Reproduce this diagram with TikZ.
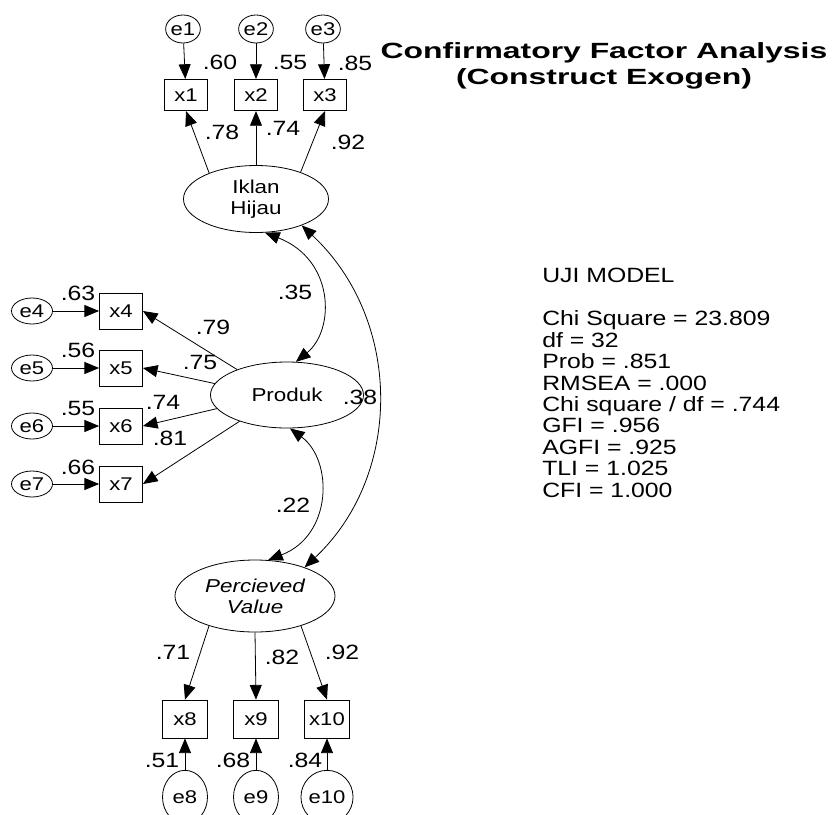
\documentclass[tikz,border=0pt]{standalone}
\usepackage{fontspec}
\setmainfont{Liberation Sans}[FakeStretch=1.2]
\newfontfamily\ttlfam{Liberation Sans}[FakeStretch=1.45]
\usetikzlibrary{shapes.geometric,arrows.meta}
\newcommand\lblF{\fontsize{15.5}{16.1}\selectfont}
\newcommand\latF{\fontsize{14}{15.5}\selectfont}
\newcommand\obsF{\fontsize{13.8}{15}\selectfont}
\newcommand\ttlF{\ttlfam\bfseries\fontsize{16.5}{19.5}\selectfont}
\tikzset{
  lat/.style={draw, ellipse, inner sep=0pt, line width=0.6pt, font=\latF, align=center},
  obs/.style={draw, rectangle, inner sep=0pt, line width=0.6pt, font=\obsF},
  err/.style={draw, ellipse, inner sep=0pt, line width=0.6pt, font=\obsF},
  lbl/.style={inner sep=0pt, font=\lblF},
  pth/.style={-{Triangle[length=11pt,width=9pt]}, line width=0.6pt},
  cov/.style={{Triangle[length=11pt,width=9pt]}-{Triangle[length=11pt,width=9pt]}, line width=0.6pt},
  topbox/.style={obs, minimum width=32.25pt, minimum height=23.5pt},
  leftbox/.style={obs, minimum width=32.25pt, minimum height=27pt},
  botbox/.style={obs, minimum width=33.75pt, minimum height=28.5pt},
  toperr/.style={err, minimum width=24.5pt, minimum height=21pt},
  lefterr/.style={err, minimum width=30.75pt, minimum height=19.5pt},
  boterr/.style={err, minimum width=33.75pt, minimum height=40pt},
}
\begin{document}
\begin{tikzpicture}[x=0.75pt,y=-0.75pt]
\useasboundingbox[fill=white] (0,0) rectangle (835,814);
\begin{scope}
\clip (0,0) rectangle (835,814);

% latent variables
\node[lat, minimum width=108.75pt, minimum height=50.25pt] (iklan) at (256,199) {Iklan\\Hijau};
\node[lat, minimum width=114.75pt, minimum height=49.5pt] (produk) at (287,395) {Produk};
\node[lat, minimum width=120pt, minimum height=54pt, font=\latF\itshape] (pv) at (255,596) {Percieved\\Value};

% top indicators
\node[topbox] (x1) at (186,95) {x1};
\node[topbox] (x2) at (256,95) {x2};
\node[topbox] (x3) at (325,95) {x3};
\node[toperr] (e1) at (183,29) {e1};
\node[toperr] (e2) at (256,29) {e2};
\node[toperr] (e3) at (323,29) {e3};

% left indicators
\node[leftbox] (x4) at (121,311) {x4};
\node[leftbox] (x5) at (121,368) {x5};
\node[leftbox] (x6) at (121,426) {x6};
\node[leftbox] (x7) at (121,484) {x7};
\node[lefterr] (e4) at (32,311) {e4};
\node[lefterr] (e5) at (32,368) {e5};
\node[lefterr] (e6) at (32,426) {e6};
\node[lefterr] (e7) at (32,484) {e7};

% bottom indicators
\node[botbox] (x8) at (185,719) {x8};
\node[botbox] (x9) at (256,719) {x9};
\node[botbox] (x10) at (327,719) {x10};
\node[boterr] (e8) at (185,797) {e8};
\node[boterr] (e9) at (256,797) {e9};
\node[boterr] (e10) at (327,797) {e10};

% error paths
\draw[pth] (e1) -- (x1);
\draw[pth] (e2) -- (x2);
\draw[pth] (e3) -- (x3);
\draw[pth] (e4) -- (x4);
\draw[pth] (e5) -- (x5);
\draw[pth] (e6) -- (x6);
\draw[pth] (e7) -- (x7);
\draw[pth] (e8) -- (x8);
\draw[pth] (e9) -- (x9);
\draw[pth] (e10) -- (x10);

% loadings
\draw[pth] (iklan.151) -- (x1.south);
\draw[pth] (iklan.90) -- (x2.south);
\draw[pth] (iklan.31) -- (x3.south);
\draw[pth] (produk.153) -- (x4.east);
\draw[pth] (produk.171) -- (x5.east);
\draw[pth] (produk.191) -- (x6.east);
\draw[pth] (produk.209) -- (x7.east);
\draw[pth] (pv.213) -- (x8.north);
\draw[pth] (pv.-90) -- (x9.north);
\draw[pth] (pv.-33) -- (x10.north);

% covariances
\draw[cov] (iklan.-75) .. controls (335,260) and (335,330) .. (produk.75);
\draw[cov] (produk.-85) .. controls (333,460) and (333,535) .. (pv.70);
\draw[cov] (iklan.-30) .. controls (403,320) and (403,475) .. (pv.30);

% labels
\node[lbl] (l1) at (220,62) {.60};
\node[lbl] (l2) at (290,62) {.55};
\node[lbl] (l3) at (355,63) {.85};
\node[lbl] (l4) at (222,132) {.78};
\node[lbl] (l5) at (283,128) {.74};
\node[lbl] (l6) at (348,142) {.92};
\node[lbl] (l7) at (78,293) {.63};
\node[lbl] (l8) at (78,350) {.56};
\node[lbl] (l9) at (78,408) {.55};
\node[lbl] (l10) at (78,467) {.66};
\node[lbl] (l11) at (213,327) {.79};
\node[lbl] (l12) at (200,362) {.75};
\node[lbl] (l13) at (163,402) {.74};
\node[lbl] (l14) at (170,438) {.81};
\node[lbl] (l15) at (295,292) {.35};
\node[lbl] (l16) at (360,397) {.38};
\node[lbl] (l17) at (293,505) {.22};
\node[lbl] (l18) at (173,652) {.71};
\node[lbl] (l19) at (282,657) {.82};
\node[lbl] (l20) at (342,652) {.92};
\node[lbl] (l21) at (162,760) {.51};
\node[lbl] (l22) at (233,760) {.68};
\node[lbl] (l23) at (305,760) {.84};

% title
\node[inner sep=0pt, font=\ttlF, align=center] (title) at (604,66) {Confirmatory Factor Analysis\\(Construct Exogen)};

% fit statistics
\node[inner sep=0pt, anchor=north west, font=\lblF, align=left] (stats) at (542,268)
  {UJI MODEL\\[16.1pt]Chi Square = 23.809\\df = 32\\Prob = .851\\RMSEA = .000\\Chi square / df = .744\\GFI = .956\\AGFI = .925\\TLI = 1.025\\CFI = 1.000};
\end{scope}
\end{tikzpicture}
\end{document}
